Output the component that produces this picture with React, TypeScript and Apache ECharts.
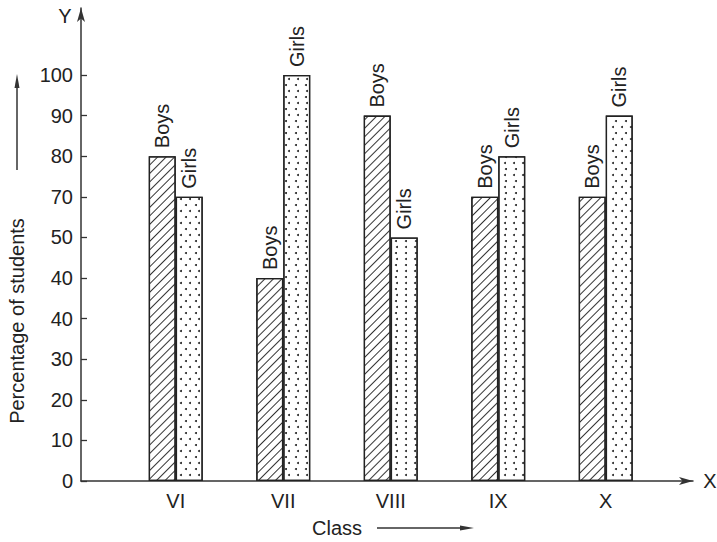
import React, { useEffect, useRef } from "react";
import * as echarts from "echarts";

const classes = ["VI", "VII", "VIII", "IX", "X"];
// bar heights measured against the axis tick grid (one tick = 10 units)
const boys = [80, 50, 90, 70, 70];
const girls = [70, 100, 60, 80, 90];
const yTicks = [0, 10, 20, 30, 40, 50, 60, 70, 80, 90, 100];
// tick labels exactly as printed in the reference (it repeats "40" and omits "60")
const yTickLabels = ["0", "10", "20", "30", "40", "40", "50", "70", "80", "90", "100"];

const FONT = "Liberation Sans, Arial, sans-serif";
const INK = "#222";

export default function App() {
  const ref = useRef<HTMLDivElement>(null);
  useEffect(() => {
    if (!ref.current) return;
    const chart = echarts.init(ref.current, null, { renderer: "svg" });
    const labelCommon = {
      show: true,
      position: "top",
      rotate: 90,
      align: "left",
      verticalAlign: "middle",
      distance: 8,
      fontSize: 20,
      fontFamily: FONT,
      color: INK,
    };
    chart.setOption({
      animation: false,
      backgroundColor: "#fff",
      grid: [
        { left: 81, right: 24, top: 8, bottom: 61 },
        { left: 122, right: 57.5, top: 8, bottom: 61 },
      ],
      xAxis: [
        {
          type: "value",
          gridIndex: 0,
          min: 0,
          max: 1,
          axisLine: {
            show: true,
            lineStyle: { color: "#333", width: 1.5 },
            symbol: ["none", "arrow"],
            symbolSize: [6, 14],
          },
          axisTick: { show: false },
          axisLabel: { show: false },
          splitLine: { show: false },
        },
        {
          type: "category",
          gridIndex: 1,
          data: classes,
          axisLine: { show: false },
          axisTick: { show: false },
          axisLabel: { fontSize: 20, fontFamily: FONT, color: INK, margin: 10 },
        },
      ],
      yAxis: [
        {
          type: "value",
          gridIndex: 0,
          min: 0,
          max: 116.5,
          interval: 10,
          axisLine: {
            show: true,
            lineStyle: { color: "#333", width: 1.5 },
            symbol: ["none", "arrow"],
            symbolSize: [6, 14],
          },
          axisTick: {
            show: true,
            inside: true,
            length: 6,
            customValues: yTicks,
            lineStyle: { color: "#333", width: 1.3 },
          },
          axisLabel: {
            fontSize: 20,
            fontFamily: FONT,
            color: INK,
            margin: 8,
            customValues: yTicks,
            formatter: (v: number) => {
              const i = yTicks.indexOf(Math.round(v));
              return i >= 0 ? yTickLabels[i] : "";
            },
          },
          splitLine: { show: false },
        },
        {
          type: "value",
          gridIndex: 1,
          min: 0,
          max: 116.5,
          show: false,
        },
      ],
      series: [
        {
          name: "Boys",
          type: "bar",
          xAxisIndex: 1,
          yAxisIndex: 1,
          data: boys,
          barWidth: 27,
          barGap: "0%",
          itemStyle: {
            color: "#fff",
            borderColor: INK,
            borderWidth: 1.3,
            decal: {
              symbol: "rect",
              symbolSize: 1,
              dashArrayX: [1, 0],
              dashArrayY: [0.9, 4.3],
              rotation: -Math.PI / 4,
              color: "#333",
              backgroundColor: "#fff",
            },
          },
          label: { ...labelCommon, formatter: "Boys" },
        },
        {
          name: "Girls",
          type: "bar",
          xAxisIndex: 1,
          yAxisIndex: 1,
          data: girls,
          barWidth: 27,
          barGap: "0%",
          itemStyle: {
            color: "#fff",
            borderColor: INK,
            borderWidth: 1.3,
            decal: {
              symbol: "circle",
              symbolSize: 1,
              dashArrayX: [[2, 7], [0, 4.5, 2, 2.5]],
              dashArrayY: [2, 4],
              rotation: 0,
              color: "#222",
              backgroundColor: "#fff",
            },
          },
          label: { ...labelCommon, formatter: "Girls" },
        },
      ],
      graphic: [
        {
          type: "text",
          x: 65,
          y: 16,
          style: { text: "Y", fontSize: 20, fontFamily: FONT, fill: INK, align: "center", verticalAlign: "middle" },
        },
        {
          type: "text",
          x: 710,
          y: 481,
          style: { text: "X", fontSize: 20, fontFamily: FONT, fill: INK, align: "center", verticalAlign: "middle" },
        },
        {
          type: "text",
          x: 17,
          y: 321,
          rotation: Math.PI / 2,
          style: {
            text: "Percentage of students",
            fontSize: 20,
            fontFamily: FONT,
            fill: INK,
            align: "center",
            verticalAlign: "middle",
          },
        },
        {
          type: "line",
          shape: { x1: 17, y1: 170, x2: 17, y2: 84 },
          style: { stroke: "#333", lineWidth: 1.5 },
        },
        {
          type: "polygon",
          shape: { points: [[17, 74], [14.5, 88], [19.5, 88]] },
          style: { fill: "#333" },
        },
        {
          type: "text",
          x: 337,
          y: 528,
          style: { text: "Class", fontSize: 20, fontFamily: FONT, fill: INK, align: "center", verticalAlign: "middle" },
        },
        {
          type: "line",
          shape: { x1: 377, y1: 528, x2: 462, y2: 528 },
          style: { stroke: "#333", lineWidth: 1.5 },
        },
        {
          type: "polygon",
          shape: { points: [[474, 528], [460, 525.5], [460, 530.5]] },
          style: { fill: "#333" },
        },
      ],
    });
    return () => chart.dispose();
  }, []);
  return (
    <div
      ref={ref}
      style={{ position: "fixed", left: 0, top: 0, width: 717, height: 542, background: "#fff" }}
    />
  );
}
